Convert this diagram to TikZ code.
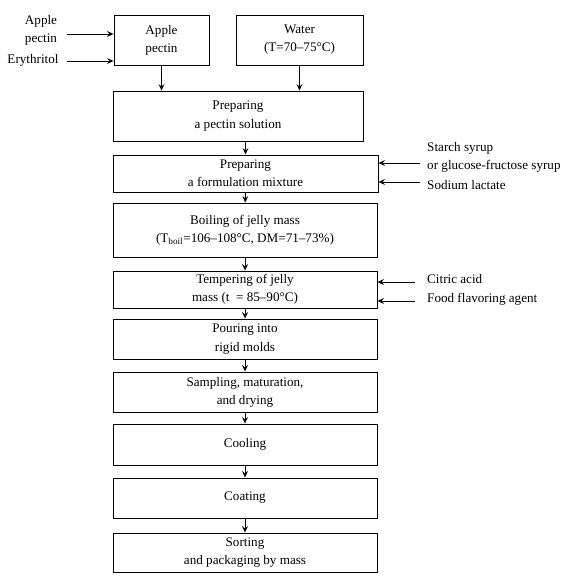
\documentclass[tikz,border=0pt]{standalone}
\usepackage{fontspec}
\setmainfont{Liberation Serif}
\usetikzlibrary{arrows.meta}
\begin{document}
\begin{tikzpicture}[x=0.03cm, y=-0.03cm]
  \tikzset{
    step box/.style={draw, thick, inner sep=0pt, align=center, minimum width=7.92cm},
    src box/.style={draw, thick, inner sep=0pt, align=center, minimum height=1.5cm},
    flow/.style={thick, ->, >={Stealth[length=5.5pt, width=5pt, inset=2pt]}},
    label text/.style={inner sep=0pt, align=center},
    every node/.style={font=\fontsize{11.2}{15.5}\selectfont}
  }
  \useasboundingbox (0,0) rectangle (585,585);

  % Sources at the top
  \node[src box, minimum width=2.85cm] (pectin) at (161.5,40) {Apple\\pectin};
  \node[src box, minimum width=3.81cm] (water) at (299.5,40) {Water\\(T=70–75°C)};

  % Main process column
  \node[step box, minimum width=7.5cm, minimum height=1.5cm] (solution) at (238,116) {Preparing\\a pectin solution};
  \node[step box, minimum width=7.95cm, minimum height=1.11cm] (mixture) at (245.5,173.5) {Preparing\\a formulation mixture};
  \node[step box, minimum height=1.62cm] (boiling) at (245,230) {Boiling of jelly mass\\(T\textsubscript{boil}=106–108°C, DM=71–73\%)};
  \node[step box, minimum height=1.11cm] (tempering) at (245,289.5) {Tempering of jelly\\mass (t\ \ = 85–90°C)};
  \node[step box, minimum height=1.2cm] (pouring) at (245,339) {Pouring into\\rigid molds};
  \node[step box, minimum height=1.2cm] (sampling) at (245,392) {Sampling, maturation,\\and drying};
  \node[step box, minimum height=1.23cm] (cooling) at (245,444.5) {Cooling};
  \node[step box, minimum height=1.2cm] (coating) at (245,498) {Coating};
  \node[step box, minimum height=1.17cm] (sorting) at (245,552.5) {Sorting\\and packaging by mass};

  % Flow between steps
  \draw[flow] (pectin.south) -- (pectin.south |- solution.north);
  \draw[flow] (water.south) -- (water.south |- solution.north);
  \draw[flow] (solution.south -| mixture.north) -- (mixture.north);
  \draw[flow] (mixture) -- (boiling);
  \draw[flow] (boiling) -- (tempering);
  \draw[flow] (tempering) -- (pouring);
  \draw[flow] (pouring) -- (sampling);
  \draw[flow] (sampling) -- (cooling);
  \draw[flow] (cooling) -- (coating);
  \draw[flow] (coating) -- (sorting);

  % Inputs on the left
  \node[label text] (in apple) at (41,30) {Apple\\pectin};
  \node[label text] (in ery) at (33,60) {Erythritol};
  \coordinate (a apple) at (67,34);
  \coordinate (a ery) at (67,61);
  \draw[flow] (a apple) -- (a apple -| pectin.west);
  \draw[flow] (a ery) -- (a ery -| pectin.west);

  % Inputs on the right
  \node[label text, anchor=west, align=left] (in syrup) at (427,157.5) {Starch syrup\\or glucose-fructose syrup};
  \node[label text, anchor=west] (in lactate) at (427,185) {Sodium lactate};
  \node[label text, anchor=west] (in acid) at (427,279) {Citric acid};
  \node[label text, anchor=west] (in aroma) at (427,299) {Food flavoring agent};
  \coordinate (a syrup) at (420,163);
  \coordinate (a lactate) at (420,182);
  \coordinate (a acid) at (415,282);
  \coordinate (a aroma) at (415,301);
  \draw[flow] (a syrup) -- (a syrup -| mixture.east);
  \draw[flow] (a lactate) -- (a lactate -| mixture.east);
  \draw[flow] (a acid) -- (a acid -| tempering.east);
  \draw[flow] (a aroma) -- (a aroma -| tempering.east);
\end{tikzpicture}
\end{document}
